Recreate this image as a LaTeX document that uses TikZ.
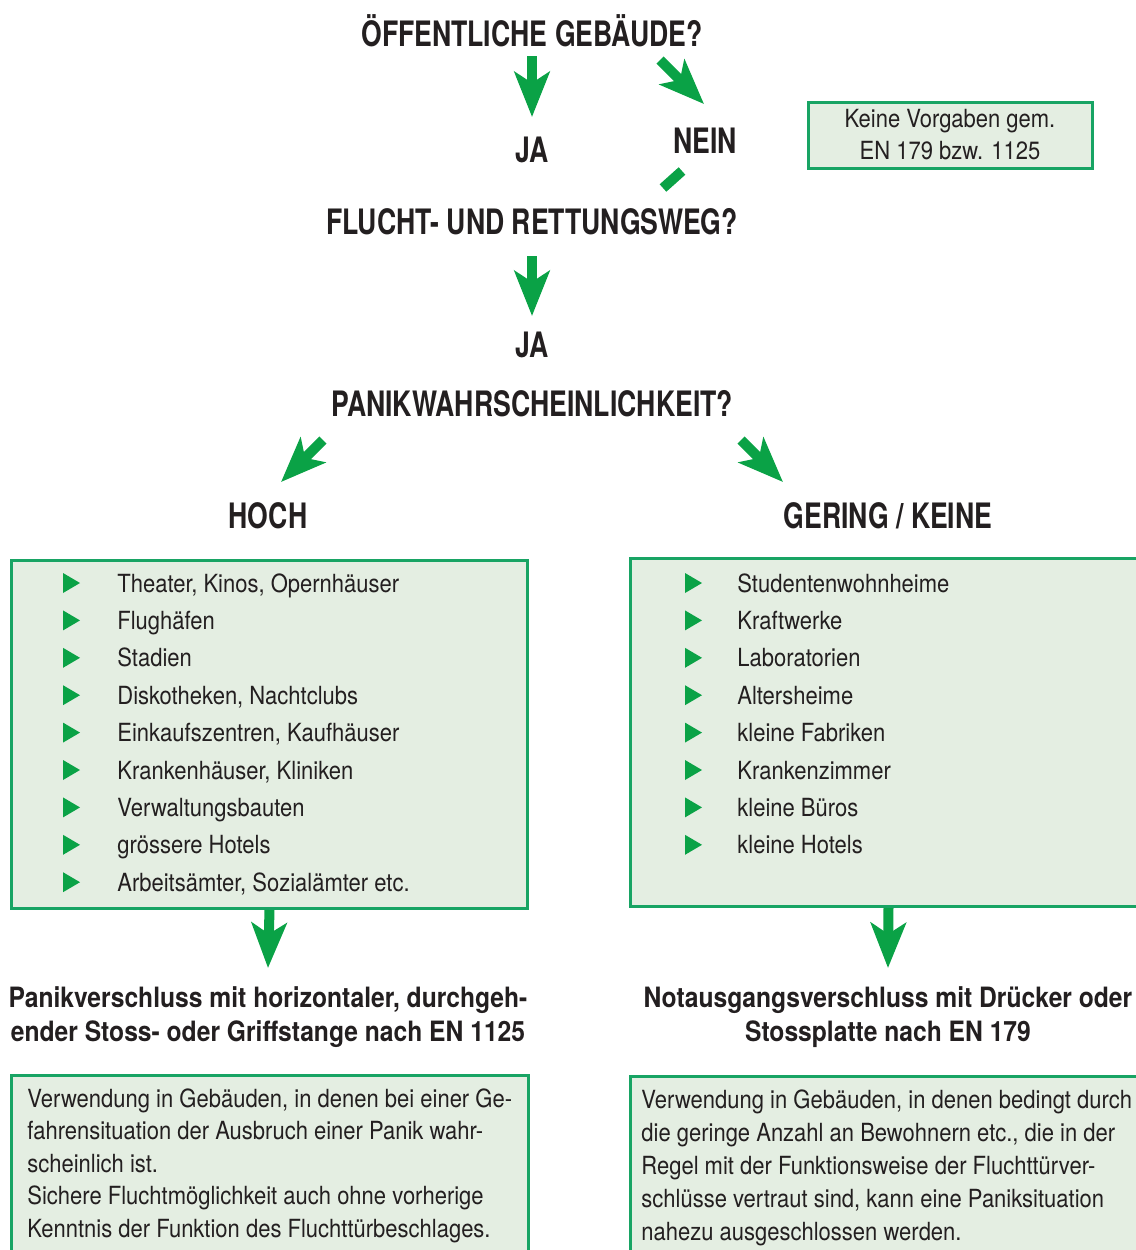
\documentclass[tikz,border=0pt]{standalone}
\usepackage{fontspec}
\setmainfont{TeX Gyre Heros}[FakeStretch=0.88]
\newfontfamily\kopffont{TeX Gyre Heros}[FakeStretch=0.76]
\usetikzlibrary{arrows.meta}
\definecolor{pfeilgruen}{RGB}{10,162,70}
\definecolor{rahmengruen}{RGB}{24,164,100}
\definecolor{boxgruen}{RGB}{228,238,226}
\definecolor{schrift}{RGB}{35,31,32}

\begin{document}
\begin{tikzpicture}[
		x=0.5pt, y=-0.5pt,
		every node/.style={inner sep=0pt, text=schrift},
		frage/.style={font=\kopffont\bfseries\fontsize{17.5}{21}\selectfont, anchor=base},
		titel/.style={font=\bfseries\fontsize{14}{17}\selectfont, anchor=base},
		eintrag/.style={font=\fontsize{12.5}{16}\selectfont, anchor=base west},
		kasten/.style={draw=rahmengruen, fill=boxgruen, line width=1.5pt, anchor=north west},
		pfeil/.style={draw=pfeilgruen, line width=5pt, -{Stealth[length=22.5pt, width=17.5pt, inset=5.5pt]}}
	]
  \useasboundingbox (0,0) rectangle (1136,1250);
  \node (q_1) [frage] at (532,46) {ÖFFENTLICHE GEBÄUDE?};
  \node (ja_1) [frage] at (532,162) {JA};
  \node (nein) [frage] at (705,153) {NEIN};
  \node (keine) [kasten, anchor=center, align=center, minimum width=142pt, minimum height=33pt,
    font=\fontsize{12.5}{16}\selectfont] at (950,135) {Keine Vorgaben gem.\\EN 179 bzw. 1125};
  \node (q_2) [frage] at (532,234) {FLUCHT- UND RETTUNGSWEG?};
  \node (ja_2) [frage] at (532,357) {JA};
  \node (q_3) [frage] at (532,416) {PANIKWAHRSCHEINLICHKEIT?};
  \node (hoch) [frage] at (268,528) {HOCH};
  \node (gering) [frage] at (888,528) {GERING / KEINE};

  \coordinate (a_1) at (532,56);  \coordinate (b_1) at (532,117);
  \coordinate (a_2) at (660,60);  \coordinate (b_2) at (704,104);
  \coordinate (a_3) at (663,188); \coordinate (b_3) at (682,171);
  \coordinate (a_4) at (532,256); \coordinate (b_4) at (532,316);
  \coordinate (a_5) at (323,440); \coordinate (b_5) at (281,482);
  \coordinate (a_6) at (741,440); \coordinate (b_6) at (783,482);
  \draw [pfeil] (a_1) -- (b_1);
  \draw [pfeil] (a_2) -- (b_2);
  \draw [pfeilgruen, line width=5pt] (a_3) -- (b_3);
  \draw [pfeil] (a_4) -- (b_4);
  \draw [pfeil] (a_5) -- (b_5);
  \draw [pfeil] (a_6) -- (b_6);

  \node (box_hoch) [kasten, minimum width=258pt, minimum height=174pt] at (10,559) {};
  \node (box_gering) [kasten, minimum width=258pt, minimum height=174pt] at (629,557) {};
  \foreach \txt [count=\i from 0] in {{Theater, Kinos, Opernhäuser}, Flughäfen, Stadien,
      {Diskotheken, Nachtclubs}, {Einkaufszentren, Kaufhäuser}, {Krankenhäuser, Kliniken},
      Verwaltungsbauten, grössere Hotels, {Arbeitsämter, Sozialämter etc.}} {
    \fill [pfeilgruen] (63,{573+37.4*\i}) -- (80,{583+37.4*\i}) -- (63,{593+37.4*\i}) -- cycle;
    \node (hoch_\i) [eintrag] at (117,{592+37.4*\i}) {\txt};
  }
  \foreach \txt [count=\i from 0] in {Studentenwohnheime, Kraftwerke, Laboratorien, Altersheime,
      kleine Fabriken, Krankenzimmer, kleine Büros, kleine Hotels} {
    \fill [pfeilgruen] (685,{573+37.4*\i}) -- (702,{583+37.4*\i}) -- (685,{593+37.4*\i}) -- cycle;
    \node (gering_\i) [eintrag] at (737,{592+37.4*\i}) {\txt};
  }

  \coordinate (b_7) at (268,968);
  \coordinate (b_8) at (888,968);
  \draw [pfeil] (box_hoch.south) -- (b_7);
  \draw [pfeil] (box_gering.south) -- (b_8);

  \node (panik_1) [titel] at (268,1007) {Panikverschluss mit horizontaler, durchgeh-};
  \node (panik_2) [titel] at (268,1041) {ender Stoss- oder Griffstange nach EN 1125};
  \node (not_1) [titel] at (888,1007) {Notausgangsverschluss mit Drücker oder};
  \node (not_2) [titel] at (888,1041) {Stossplatte nach EN 179};

  \node (info_hoch) [kasten, minimum width=258.5pt, minimum height=100pt] at (10,1074) {};
  \node (info_gering) [kasten, minimum width=258pt, minimum height=100pt] at (629,1075) {};
  \foreach \txt [count=\i from 0] in {Verwendung in Gebäuden{,} in denen bei einer Ge-,
      fahrensituation der Ausbruch einer Panik wahr-, scheinlich ist.,
      Sichere Fluchtmöglichkeit auch ohne vorherige, Kenntnis der Funktion des Fluchttürbeschlages.}
    \node (text_hoch_\i) [eintrag] at (27,{1107+32.5*\i}) {\txt};
  \foreach \txt [count=\i from 0] in {Verwendung in Gebäuden{,} in denen bedingt durch,
      die geringe Anzahl an Bewohnern etc.{,} die in der,
      Regel mit der Funktionsweise der Fluchttürver-,
      schlüsse vertraut sind{,} kann eine Paniksituation, nahezu ausgeschlossen werden.}
    \node (text_gering_\i) [eintrag] at (641,{1108+33*\i}) {\txt};
\end{tikzpicture}
\end{document}
